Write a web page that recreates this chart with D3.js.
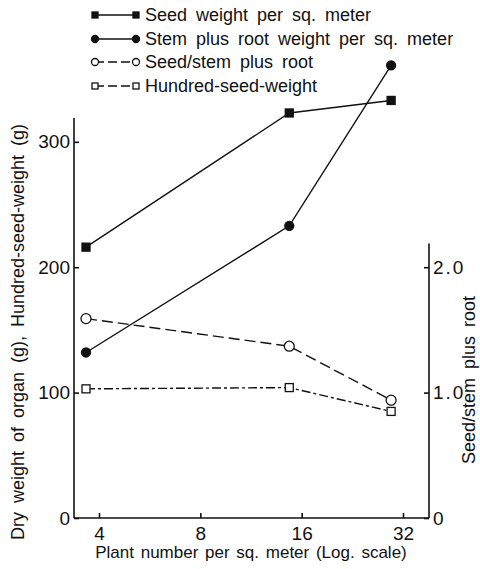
<!DOCTYPE html>
<html>
<head>
<meta charset="utf-8">
<script src="https://cdn.jsdelivr.net/npm/d3@7"></script>
<style>
  body { margin: 0; background: #fff; }
  text { font-family: "Liberation Sans", Arial, sans-serif; fill: #111; }
</style>
</head>
<body>
<div class="mainContainer"></div>
<script>
// plant number per sq. meter (log scale)
const plantNumber = [3.66, 14.7, 29.5];
const seedWeight = [216, 323, 333];
const stemRootWeight = [132, 233, 361];
const seedStemRatio = [1.59, 1.37, 0.94];
const hundredSeedWeight = [103, 104, 85];

const xTicks = [4, 8, 16, 32];
const leftTicks = [0, 100, 200, 300];
const rightTicks = [0, 1, 2];

const legendLabels = [
  'Seed weight per sq. meter',
  'Stem plus root weight per sq. meter',
  'Seed/stem plus root',
  'Hundred-seed-weight'
];

let width = 480;
let height = 569;
let axisLeftX = 74, axisRightX = 429, axisBottom = 518, axisTop = 118;

let svg = d3.select('.mainContainer')
  .append('svg')
  .attr('width', width)
  .attr('height', height);

let x = d3.scaleLog().base(2).domain([4, 32]).range([99, 403]);
let yLeft = d3.scaleLinear().domain([0, 319]).range([axisBottom, axisTop]);
let yRight = d3.scaleLinear().domain([0, 3.19]).range([axisBottom, axisTop]);

// axes, ticks pointing inward
svg.append('g')
  .attr('transform', 'translate(0,' + axisBottom + ')')
  .call(d3.axisTop(x).tickValues(xTicks).tickFormat(d3.format('d')).tickSize(5).tickSizeOuter(0))
  .call(g => g.select('.domain').attr('d', 'M' + axisLeftX + ',0H' + axisRightX))
  .call(g => g.selectAll('text').attr('y', 22).attr('dy', 0).style('font-size', '19px'));

svg.append('g')
  .attr('transform', 'translate(' + axisLeftX + ',0)')
  .call(d3.axisRight(yLeft).tickValues(leftTicks).tickSize(5).tickSizeOuter(0))
  .call(g => g.select('.domain').attr('d', 'M0,' + axisBottom + 'V' + axisTop))
  .call(g => g.selectAll('text').attr('x', -4).attr('text-anchor', 'end').style('font-size', '19px'));

svg.append('g')
  .attr('transform', 'translate(' + axisRightX + ',0)')
  .call(d3.axisLeft(yRight).tickValues(rightTicks).tickFormat(d => d === 0 ? '0' : d3.format('.1f')(d)).tickSize(5).tickSizeOuter(0))
  .call(g => g.select('.domain').attr('d', 'M0,' + axisBottom + 'V' + yRight(2.19)))
  .call(g => g.selectAll('text').attr('x', 4).attr('text-anchor', 'start').style('font-size', '19px').style('letter-spacing', '2px'));

svg.selectAll('.domain, .tick line').attr('stroke', '#111').attr('stroke-width', 1.6);

// axis titles
svg.append('text')
  .text('Plant number per sq. meter  (Log. scale)')
  .attr('x', 251).attr('y', 558)
  .style('text-anchor', 'middle').style('font-size', '17px').style('word-spacing', '2px');

svg.append('text')
  .text('Dry weight of organ (g), Hundred-seed-weight (g)')
  .attr('transform', 'translate(24,332) rotate(-90)')
  .style('text-anchor', 'middle').style('font-size', '18px').style('word-spacing', '4px');

svg.append('text')
  .text('Seed/stem plus root')
  .attr('transform', 'translate(475,380) rotate(-90)')
  .style('text-anchor', 'middle').style('font-size', '18px').style('word-spacing', '4px');

// series
const series = [
  { values: seedWeight, y: yLeft, dash: null, marker: 'square', fill: '#111' },
  { values: stemRootWeight, y: yLeft, dash: null, marker: 'circle', fill: '#111' },
  { values: seedStemRatio, y: yRight, dash: '11,5', marker: 'circle', fill: '#fff' },
  { values: hundredSeedWeight, y: yLeft, dash: '9,3,3,3', marker: 'square', fill: '#fff' }
];

function drawMarker(g, s, cx, cy, small) {
  if (s.marker === 'square') {
    let a = small ? 6 : 8;
    g.append('rect')
      .attr('x', cx - a / 2).attr('y', cy - a / 2)
      .attr('width', a).attr('height', a)
      .attr('fill', s.fill).attr('stroke', '#111').attr('stroke-width', 1.3);
  } else {
    let r = small ? 3.5 : 4.5;
    if (s.fill === '#fff') r = small ? 3.5 : 5;
    g.append('circle')
      .attr('cx', cx).attr('cy', cy).attr('r', r)
      .attr('fill', s.fill).attr('stroke', '#111').attr('stroke-width', 1.3);
  }
}

series.forEach((s) => {
  let pts = plantNumber.map((p, i) => [x(p), s.y(s.values[i])]);
  svg.append('path')
    .attr('d', d3.line()(pts))
    .attr('fill', 'none')
    .attr('stroke', '#111')
    .attr('stroke-width', 1.4)
    .attr('stroke-dasharray', s.dash);
  let g = svg.append('g');
  pts.forEach(p => drawMarker(g, s, p[0], p[1], false));
});

// legend
const legendY = [15, 39, 62, 86];
series.forEach((s, i) => {
  let g = svg.append('g');
  g.append('line')
    .attr('x1', 95).attr('x2', 136)
    .attr('y1', legendY[i]).attr('y2', legendY[i])
    .attr('stroke', '#111').attr('stroke-width', 1.3)
    .attr('stroke-dasharray', s.dash ? '9,4' : null);
  drawMarker(g, s, 95, legendY[i], true);
  drawMarker(g, s, 136, legendY[i], true);
  g.append('text')
    .text(legendLabels[i])
    .attr('x', 145).attr('y', legendY[i] + 6)
    .style('font-size', '18px').style('word-spacing', '4px');
});
</script>
</body>
</html>
